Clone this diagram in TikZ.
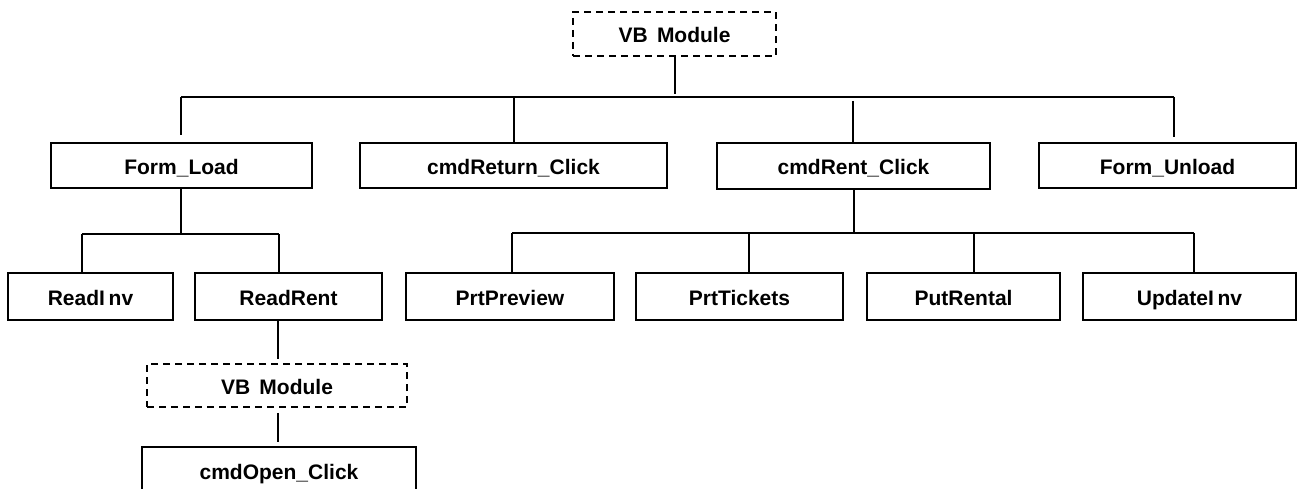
\documentclass[tikz,border=0pt]{standalone}
\usepackage{fontspec}
\setmainfont{Liberation Sans}
\tikzset{
  every picture/.style={x=1pt,y=-1pt},
  box/.style={draw, line width=1.6pt, inner sep=0pt, minimum height=46pt,
    text height=20pt, text depth=2pt,
    font=\fontsize{21}{25}\selectfont\bfseries},
  dbox/.style={box, dash pattern=on 7pt off 5pt},
  conn/.style={line width=1.6pt},
}
\newcommand{\Ik}{I\kern0.18em}
\begin{document}
\begin{tikzpicture}
\useasboundingbox (0,0) rectangle (1297,489);
\begin{scope}
\clip (0,0) rectangle (1297,489);
% top module
\node[dbox, minimum width=203pt, minimum height=44pt] (vb1) at (674.5,34) {VB\, Module};
% first row
\node[box, minimum width=261pt, minimum height=45pt] (formload) at (181.5,165.5) {Form\_Load};
\node[box, minimum width=307pt, minimum height=45pt] (cmdreturn) at (513.5,165.5) {cmdReturn\_Click};
\node[box, minimum width=273pt] (cmdrent) at (853.5,166) {cmdRent\_Click};
\node[box, minimum width=257pt, minimum height=45pt] (formunload) at (1167.5,165.5) {Form\_Unload};
% second row
\node[box, minimum width=165pt, minimum height=47pt] (readinv) at (90.5,296.5) {Read\Ik nv};
\node[box, minimum width=187pt, minimum height=47pt] (readrent) at (288.5,296.5) {ReadRent};
\node[box, minimum width=208pt, minimum height=47pt] (prtpreview) at (510,296.5) {PrtPreview};
\node[box, minimum width=207pt, minimum height=47pt] (prttickets) at (739.5,296.5) {PrtTickets};
\node[box, minimum width=193pt, minimum height=47pt] (putrental) at (963.5,296.5) {PutRental};
\node[box, minimum width=213pt, minimum height=47pt] (updateinv) at (1189.5,296.5) {Update\Ik nv};
% lower module
\node[dbox, minimum width=260pt, minimum height=43pt] (vb2) at (277,385.5) {VB\, Module};
\node[box, minimum width=274pt, minimum height=47pt] (cmdopen) at (279,470.5) {cmdOpen\_Click};

% bus coordinates
\coordinate (b1L) at (181,97);
\coordinate (b1R) at (1174,97);
\coordinate (b1C) at (675,97);
\coordinate (b1ret) at (514,97);
\coordinate (b1rent) at (853,101);
\coordinate (b2L) at (82,234);
\coordinate (b2R) at (279,234);
\coordinate (b2C) at (181,234);
\coordinate (b3L) at (512,233);
\coordinate (b3R) at (1194,233);
\coordinate (b3C) at (854,233);
\coordinate (b3a) at (749,233);
\coordinate (b3b) at (974,233);

% top level connectors
\draw[conn] (vb1.south -| b1C) -- ([yshift=3pt]b1C);
\draw[conn] (b1L) -- (b1R);
\draw[conn, shorten >=7pt] (b1L) -- (b1L |- formload.north);
\draw[conn] (b1ret) -- (b1ret |- cmdreturn.north);
\draw[conn] (b1rent) -- (b1rent |- cmdrent.north);
\draw[conn, shorten >=5pt] (b1R) -- (b1R |- formunload.north);

% Form_Load children
\draw[conn] (formload.south -| b2C) -- (b2C);
\draw[conn] (b2L) -- (b2R);
\draw[conn] (b2L) -- (b2L |- readinv.north);
\draw[conn] (b2R) -- (b2R |- readrent.north);

% cmdRent children
\draw[conn] (cmdrent.south -| b3C) -- (b3C);
\draw[conn] (b3L) -- (b3R);
\draw[conn] (b3L) -- (b3L |- prtpreview.north);
\draw[conn] (b3a) -- (b3a |- prttickets.north);
\draw[conn] (b3b) -- (b3b |- putrental.north);
\draw[conn] (b3R) -- (b3R |- updateinv.north);

% ReadRent chain
\coordinate (c1) at (278,320);
\draw[conn, shorten >=4pt] (readrent.south -| c1) -- (vb2.north -| c1);
\draw[conn, shorten <=5pt, shorten >=4pt] (vb2.south -| c1) -- (cmdopen.north -| c1);
\end{scope}
\end{tikzpicture}
\end{document}
